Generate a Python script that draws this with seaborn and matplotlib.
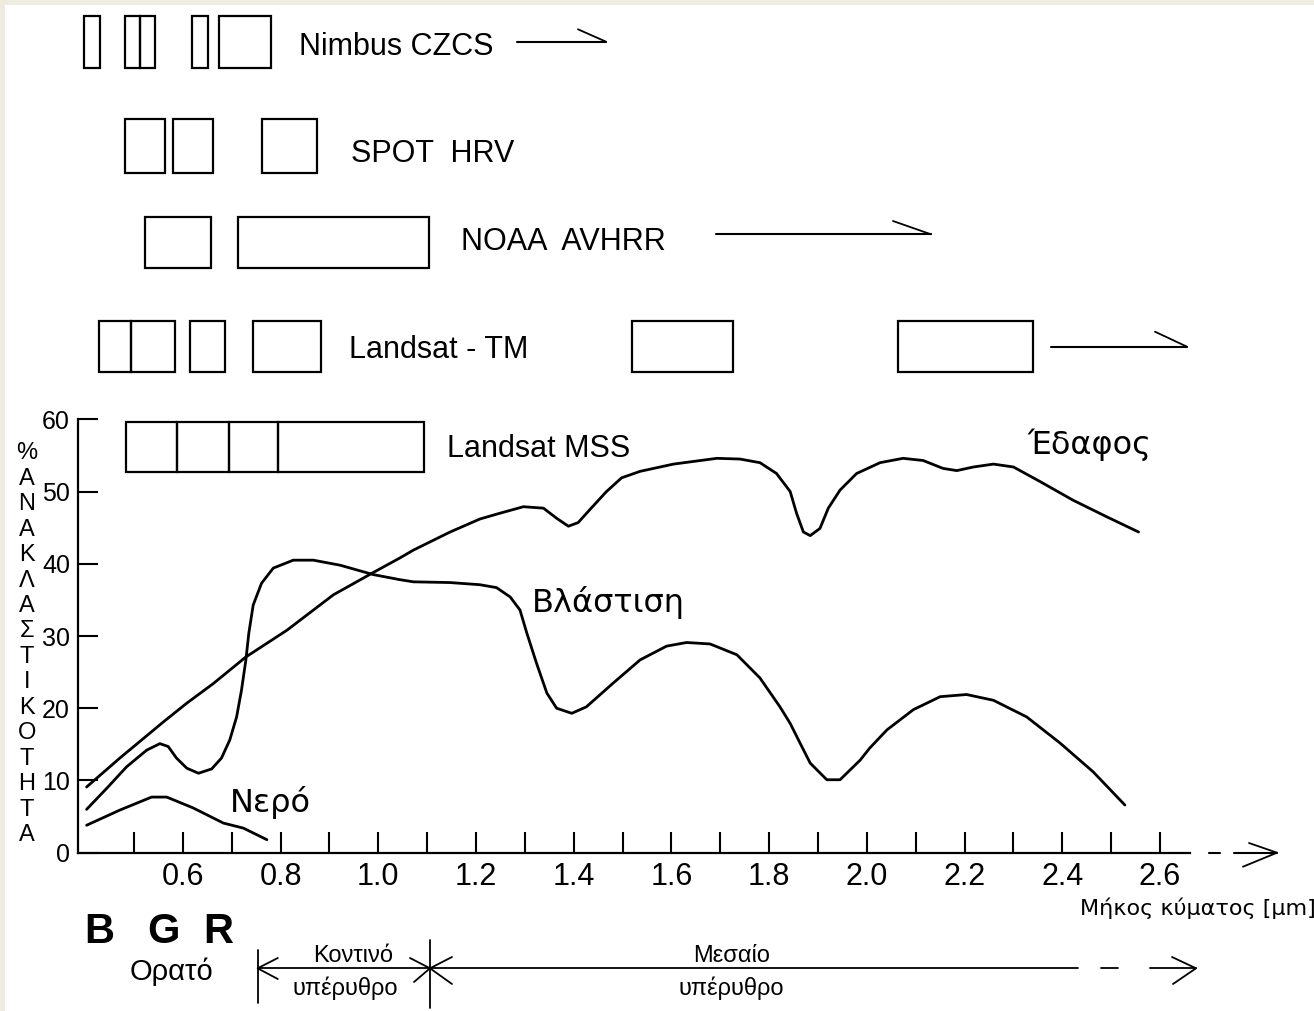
import matplotlib
matplotlib.use("Agg")
import matplotlib.pyplot as plt
import seaborn as sns

# ---------------- data ----------------
soil_wl = [0.403, 0.471, 0.560, 0.608, 0.662, 0.729, 0.813, 0.908, 0.990, 1.044, 1.072, 1.147,
           1.208, 1.249, 1.297, 1.338, 1.365, 1.389, 1.409, 1.433, 1.467, 1.498, 1.536, 1.604,
           1.693, 1.740, 1.781, 1.815, 1.843, 1.856, 1.870, 1.884, 1.904, 1.921, 1.945, 1.979,
           2.027, 2.074, 2.115, 2.156, 2.184, 2.218, 2.259, 2.300, 2.354, 2.422, 2.491, 2.556]
soil_refl = [9.1, 13.1, 18.1, 20.7, 23.4, 27.1, 30.8, 35.7, 38.8, 40.8, 41.9, 44.4,
             46.2, 47.0, 47.9, 47.7, 46.3, 45.2, 45.7, 47.5, 50.0, 51.9, 52.8, 53.8,
             54.6, 54.5, 54.0, 52.5, 50.0, 47.0, 44.4, 43.9, 44.9, 47.7, 50.2, 52.5,
             54.0, 54.6, 54.3, 53.2, 52.9, 53.4, 53.8, 53.4, 51.4, 48.8, 46.5, 44.4]

veg_wl = [0.403, 0.444, 0.485, 0.526, 0.553, 0.570, 0.587, 0.608, 0.632, 0.659, 0.679, 0.696,
          0.710, 0.720, 0.729, 0.735, 0.744, 0.761, 0.785, 0.826, 0.867, 0.922, 0.990, 1.044,
          1.072, 1.147, 1.208, 1.242, 1.270, 1.290, 1.304, 1.324, 1.345, 1.365, 1.396, 1.426,
          1.481, 1.536, 1.590, 1.631, 1.679, 1.734, 1.781, 1.822, 1.843, 1.863, 1.884, 1.918,
          1.945, 1.986, 2.006, 2.041, 2.095, 2.150, 2.204, 2.259, 2.327, 2.395, 2.463, 2.528]
veg_refl = [6.0, 8.9, 11.9, 14.2, 15.1, 14.7, 13.1, 11.7, 11.0, 11.6, 13.1, 15.6,
            18.8, 22.5, 26.7, 30.4, 34.3, 37.3, 39.4, 40.5, 40.5, 39.8, 38.5, 37.8,
            37.5, 37.4, 37.1, 36.7, 35.4, 33.6, 30.4, 26.2, 22.1, 20.0, 19.3, 20.2,
            23.5, 26.7, 28.6, 29.1, 28.9, 27.4, 24.2, 20.2, 17.9, 15.2, 12.4, 10.1,
            10.1, 12.8, 14.5, 17.0, 19.8, 21.6, 21.9, 21.1, 18.8, 15.2, 11.2, 6.6]

water_wl = [0.403, 0.471, 0.536, 0.567, 0.621, 0.683, 0.724, 0.772]
water_refl = [3.8, 5.9, 7.7, 7.7, 6.2, 4.1, 3.4, 1.8]

# sensor bands (start, end) in micrometres
nimbus_bands = [(0.398, 0.431), (0.482, 0.512), (0.512, 0.543), (0.619, 0.652), (0.673, 0.780)]
spot_bands = [(0.482, 0.563), (0.580, 0.662), (0.762, 0.874)]
noaa_bands = [(0.522, 0.657), (0.713, 1.104)]
tm_bands = [(0.428, 0.494), (0.494, 0.583), (0.614, 0.686), (0.744, 0.883), (1.519, 1.726), (2.064, 2.340)]
mss_bands = [(0.483, 0.587), (0.587, 0.695), (0.695, 0.794), (0.794, 1.094)]
sensor_names = ["Nimbus CZCS", "SPOT  HRV", "NOAA  AVHRR", "Landsat - TM", "Landsat MSS"]

y_ticks = [0, 10, 20, 30, 40, 50, 60]
x_major = [0.6, 0.8, 1.0, 1.2, 1.4, 1.6, 1.8, 2.0, 2.2, 2.4, 2.6]
x_minor = [0.5, 0.7, 0.9, 1.1, 1.3, 1.5, 1.7, 1.9, 2.1, 2.3, 2.5]
x_labels = ["0.6", "0.8", "1.0", "1.2", "1.4", "1.6", "1.8", "2.0", "2.2", "2.4", "2.6"]
y_label_chars = list("%ΑΝΑΚΛΑΣΤΙΚΟΤΗΤΑ")
curve_names = ["Έδαφος", "Βλάστιση", "Νερό"]
color_letters = ["B", "G", "R"]

# ---------------- style ----------------
sns.set_theme(style="white")
plt.rcParams["font.family"] = ["Liberation Sans", "DejaVu Sans"]
plt.rcParams["text.color"] = "black"

fig = plt.figure(figsize=(13.14, 10.11), dpi=100, facecolor="#EEECE1")
ax = fig.add_axes([5 / 1314, 0, 1309 / 1314, 1006 / 1011])
ax.set_facecolor("white")


def X(px):
    return 0.5 + (px - 134) / 488.6


def Y(py):
    return (852.7 - py) / 7.223


ax.set_xlim(X(5), X(1314))
ax.set_ylim(Y(1011), Y(5))

# axes lines
for s in ["top", "right"]:
    ax.spines[s].set_visible(False)
for s in ["left", "bottom"]:
    ax.spines[s].set_color("black")
    ax.spines[s].set_linewidth(1.6)
ax.spines["left"].set_position(("data", X(78)))
ax.spines["left"].set_bounds(0, 60)
ax.spines["bottom"].set_position(("data", 0))
ax.spines["bottom"].set_bounds(X(78), X(1190))

ax.set_yticks(y_ticks)
ax.set_yticklabels([str(v) for v in y_ticks])
ax.set_xticks(x_major)
ax.set_xticklabels(x_labels)
ax.set_xticks(x_minor, minor=True)
ax.tick_params(axis="x", which="both", bottom=True, direction="in", length=15, width=1.5,
               color="black", labelsize=22, pad=6.5, labelcolor="black")
ax.tick_params(axis="y", which="both", left=True, direction="in", length=14.4, width=1.5,
               color="black", labelsize=18, pad=5.8, labelcolor="black")
ax.grid(False)

# curves
for wl, refl in [(soil_wl, soil_refl), (veg_wl, veg_refl), (water_wl, water_refl)]:
    sns.lineplot(x=wl, y=refl, ax=ax, color="black", linewidth=2.0, sort=False, estimator=None,
                 solid_joinstyle="round", solid_capstyle="round")

# sensor band boxes
rows = [(nimbus_bands, 16, 68), (spot_bands, 119.5, 172.7), (noaa_bands, 217, 268),
        (tm_bands, 321, 372), (mss_bands, 422, 472)]
for bands, top_px, bot_px in rows:
    starts = [b[0] for b in bands]
    widths = [b[1] - b[0] for b in bands]
    ax.bar(starts, [Y(top_px) - Y(bot_px)] * len(bands), width=widths, bottom=Y(bot_px),
           align="edge", fill=False, edgecolor="black", linewidth=1.6)

# sensor labels
label_pos = [(299, 55), (351, 161.7), (461, 250), (349, 358), (447, 457)]
for name, (px, py) in zip(sensor_names, label_pos):
    ax.text(X(px), Y(py), name, fontsize=22, ha="left", va="baseline")

# half-barb arrows after sensors
for x0, x1, yy, bx, by in [(517, 606, 41.7, 578, 29.3), (716, 931, 234.3, 893, 221),
                           (1051, 1187, 346.7, 1155, 331.7)]:
    ax.plot([X(x0), X(x1)], [Y(yy), Y(yy)], color="black", lw=1.5)
    ax.plot([X(bx), X(x1)], [Y(by), Y(yy)], color="black", lw=1.3)

# curve labels
for name, (px, py) in zip(curve_names, [(1027, 454), (532, 612.3), (230, 811.7)]):
    ax.text(X(px), Y(py), name, fontsize=23, ha="left", va="baseline", family="DejaVu Sans")

# y-axis label (stacked letters)
for i, ch in enumerate(y_label_chars):
    ax.text(X(27), Y(453.3 + i * 25.45), ch, fontsize=17, ha="center", va="center")

# x axis continuation arrow
ax.plot([X(1209), X(1220)], [0, 0], color="black", lw=1.5)
ax.plot([X(1234), X(1277)], [0, 0], color="black", lw=1.5)
ax.plot([X(1249), X(1277), X(1243)], [Y(843), 0, Y(866.7)], color="black", lw=1.3)

ax.text(X(1080), Y(915), "Μήκος κύματος [μm]", fontsize=16, ha="left", va="baseline",
        family="DejaVu Sans")

# visible B G R
for ch, px in zip(color_letters, [99, 164, 218]):
    ax.text(X(px), Y(943), ch, fontsize=30, fontweight="bold", ha="center", va="baseline")
ax.text(X(171.5), Y(980), "Ορατό", fontsize=21, ha="center", va="baseline")

# near / mid infrared brackets
lw_b = 1.3
ax.plot([X(257.6)] * 2, [Y(950), Y(1003)], color="black", lw=lw_b)
ax.plot([X(430)] * 2, [Y(940), Y(1008)], color="black", lw=lw_b)
ax.plot([X(257.6), X(1078)], [Y(968.3)] * 2, color="black", lw=lw_b)
ax.plot([X(277.8), X(257.6), X(277.8)], [Y(958), Y(968.3), Y(979)], color="black", lw=lw_b)
ax.plot([X(410), X(430), X(414)], [Y(958), Y(968.3), Y(982)], color="black", lw=lw_b)
ax.plot([X(452), X(430), X(452)], [Y(957), Y(968.3), Y(984)], color="black", lw=lw_b)
ax.plot([X(1101), X(1118)], [Y(968.3)] * 2, color="black", lw=lw_b)
ax.plot([X(1150), X(1196)], [Y(968.3)] * 2, color="black", lw=lw_b)
ax.plot([X(1172), X(1196), X(1173)], [Y(957), Y(968.3), Y(984)], color="black", lw=lw_b)

ax.text(X(353.5), Y(961.7), "Κοντινό", fontsize=17, ha="center", va="baseline")
ax.text(X(345), Y(995), "υπέρυθρο", fontsize=17, ha="center", va="baseline")
ax.text(X(732), Y(961.7), "Μεσαίο", fontsize=17, ha="center", va="baseline")
ax.text(X(731), Y(995), "υπέρυθρο", fontsize=17, ha="center", va="baseline")

fig.savefig("out.png", dpi=100, facecolor=fig.get_facecolor())
